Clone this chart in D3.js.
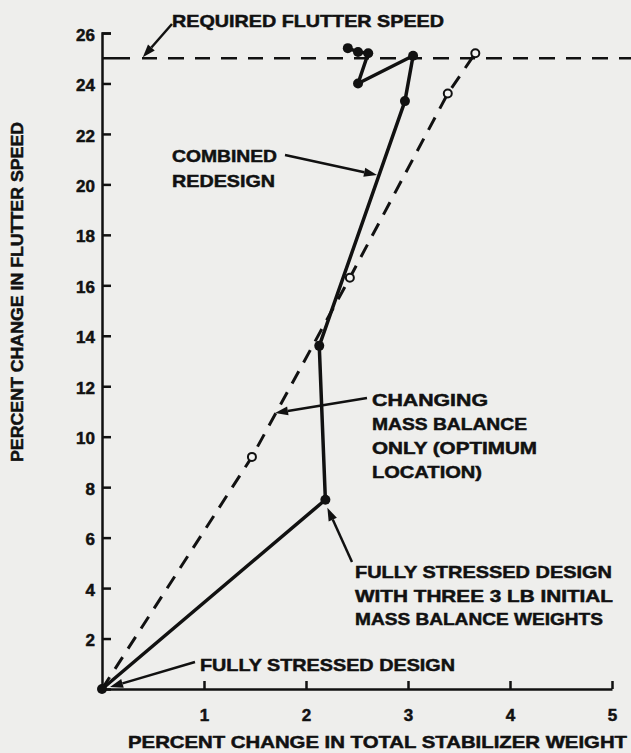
<!DOCTYPE html>
<html><head><meta charset="utf-8">
<script src="https://cdn.jsdelivr.net/npm/d3@7"></script>
<style>
html,body{margin:0;padding:0;background:#eeeeec;}
svg{display:block;}
text{font-family:"Liberation Sans",Arial,Helvetica,sans-serif;font-weight:bold;fill:#111;stroke:#111;stroke-width:0.5px;}
</style></head>
<body>
<script>
// ---- data ----
const combinedX = [0, 2.19, 2.13, 2.97, 3.05, 2.51, 2.61, 2.51, 2.41];
const combinedY = [0, 7.5, 13.6, 23.3, 25.1, 24.0, 25.2, 25.25, 25.4];
const massX = [0, 1.47, 2.43, 3.39, 3.66];
const massY = [0, 9.2, 16.3, 23.6, 25.2];
const requiredSpeed = 25;
const xTicks = [1, 2, 3, 4, 5];
const yTicks = [2, 4, 6, 8, 10, 12, 14, 16, 18, 20, 22, 24, 26];
const xTitle = "PERCENT CHANGE IN TOTAL STABILIZER WEIGHT";
const yTitle = "PERCENT CHANGE  IN FLUTTER SPEED";

const W = 631, H = 753;
const svg = d3.select("body").append("svg").attr("width", W).attr("height", H);
svg.append("rect").attr("width", W).attr("height", H).attr("fill", "#eeeeec");

const x = d3.scaleLinear().domain([0, 5]).range([102, 612]);
const y = d3.scaleLinear().domain([0, 26]).range([689, 33]);

// axes
const gx = svg.append("g").attr("transform", `translate(0,${y(0)})`)
  .call(d3.axisBottom(x).tickValues(xTicks).tickSizeInner(-8).tickSizeOuter(0).tickPadding(20).tickFormat(d3.format("d")));
const gy = svg.append("g").attr("transform", `translate(${x(0)},0)`)
  .call(d3.axisLeft(y).tickValues(yTicks).tickSizeInner(-9).tickSizeOuter(-9).tickPadding(7).tickFormat(d3.format("d")));
[gx, gy].forEach(g => {
  g.selectAll("path.domain").attr("stroke", "#111").attr("stroke-width", 2.5);
  g.selectAll(".tick line").attr("stroke", "#111").attr("stroke-width", 2.5);
  g.selectAll(".tick text").attr("font-size", 17).attr("font-weight", "bold")
    .attr("font-family", '"Liberation Sans",Arial,sans-serif').attr("fill", "#111")
    .attr("stroke", "#111").attr("stroke-width", 0.5);
});
gy.selectAll(".tick text").attr("dy", "0.42em");

// required flutter speed line
svg.append("line").attr("x1", x(0)).attr("x2", W).attr("y1", y(requiredSpeed)).attr("y2", y(requiredSpeed))
  .attr("stroke", "#111").attr("stroke-width", 2.5).attr("stroke-dasharray", "28,12,15,11,16,11,15,11,16,11,15,11,16,11,15,11,16,11,15,11,16,11,15,11,16,11,15,11,16,11,15,11,16,11,15,11,16,11,15,11");

// mass balance only (dashed)
const massData = massX.map((v, i) => [v, massY[i]]);
svg.append("path").datum(massData)
  .attr("d", d3.line().x(d => x(d[0])).y(d => y(d[1])))
  .attr("fill", "none").attr("stroke", "#111").attr("stroke-width", 3).attr("stroke-dasharray", "14,10");
svg.selectAll("circle.mass").data(massData.slice(1)).enter().append("circle")
  .attr("cx", d => x(d[0])).attr("cy", d => y(d[1])).attr("r", 4)
  .attr("fill", "#f4f4f2").attr("stroke", "#111").attr("stroke-width", 2);

// combined redesign (solid)
const combData = combinedX.map((v, i) => [v, combinedY[i]]);
svg.append("path").datum(combData)
  .attr("d", d3.line().x(d => x(d[0])).y(d => y(d[1])))
  .attr("fill", "none").attr("stroke", "#111").attr("stroke-width", 3.5).attr("stroke-linejoin", "round");
svg.selectAll("circle.comb").data(combData).enter().append("circle")
  .attr("cx", d => x(d[0])).attr("cy", d => y(d[1])).attr("r", 5).attr("fill", "#111");

// titles
svg.append("text").attr("x", 128).attr("y", 748).attr("font-size", 17)
  .attr("textLength", 499).attr("lengthAdjust", "spacingAndGlyphs").text(xTitle);
svg.append("text").attr("transform", "translate(23,292) rotate(-90)").attr("text-anchor", "middle")
  .attr("font-size", 16).attr("textLength", 340).attr("lengthAdjust", "spacingAndGlyphs").text(yTitle);

// annotations
const notes = [
  {x: 172, y: 27, w: 272, t: "REQUIRED FLUTTER SPEED"},
  {x: 172, y: 162, w: 105, t: "COMBINED"},
  {x: 172, y: 187, w: 103, t: "REDESIGN"},
  {x: 372, y: 406, w: 116, t: "CHANGING"},
  {x: 372, y: 430, w: 155, t: "MASS BALANCE"},
  {x: 372, y: 454, w: 165, t: "ONLY (OPTIMUM"},
  {x: 372, y: 478, w: 110, t: "LOCATION)"},
  {x: 355, y: 578, w: 257, t: "FULLY STRESSED DESIGN"},
  {x: 355, y: 602, w: 258, t: "WITH THREE 3 LB INITIAL"},
  {x: 355, y: 625, w: 248, t: "MASS BALANCE WEIGHTS"},
  {x: 200, y: 671, w: 255, t: "FULLY STRESSED DESIGN"}
];
svg.selectAll("text.note").data(notes).enter().append("text").attr("class", "note")
  .attr("x", d => d.x).attr("y", d => d.y).attr("font-size", 17)
  .attr("textLength", d => d.w).attr("lengthAdjust", "spacingAndGlyphs").text(d => d.t);

const arrows = [
  [[172, 24], [x(0.4), y(requiredSpeed) - 1]],
  [[285, 155], [377, 175]],
  [[367, 398], [275, 413]],
  [[352, 562], [x(2.19) + 2, y(7.5) + 8]],
  [[195, 662], [x(0) + 8, y(0) - 2]]
];
arrows.forEach(([a, b]) => {
  const dx = b[0] - a[0], dy = b[1] - a[1], L = Math.hypot(dx, dy);
  const ux = dx / L, uy = dy / L, hl = 13, hw = 4.5;
  const bx = b[0] - ux * hl, by = b[1] - uy * hl;
  svg.append("line").attr("x1", a[0]).attr("y1", a[1]).attr("x2", bx).attr("y2", by)
    .attr("stroke", "#111").attr("stroke-width", 2.5);
  svg.append("polygon").attr("points", [
    [b[0], b[1]], [bx - uy * hw, by + ux * hw], [bx + uy * hw, by - ux * hw]].map(p => p.join(",")).join(" "))
    .attr("fill", "#111");
});
</script>
</body></html>
